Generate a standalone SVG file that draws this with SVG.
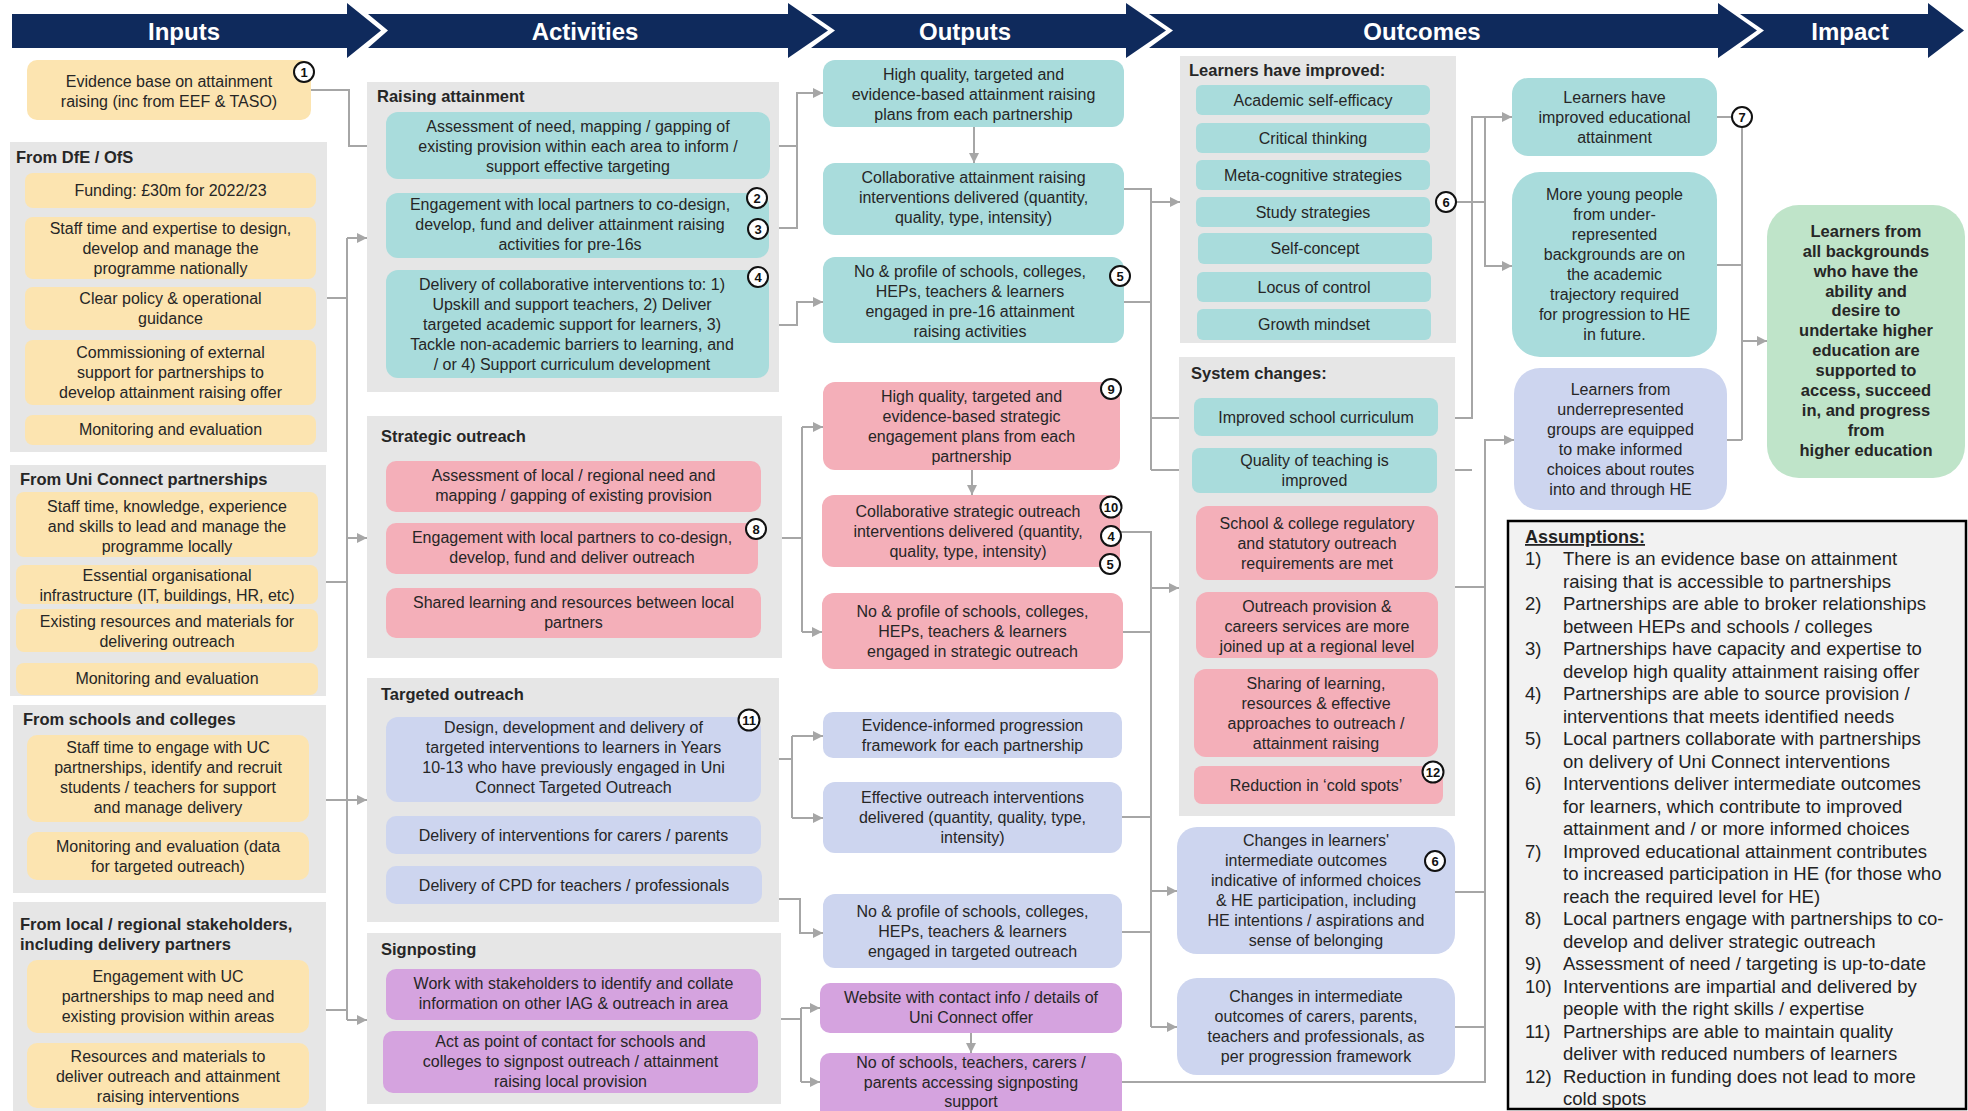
<svg xmlns="http://www.w3.org/2000/svg" width="1968" height="1111" viewBox="0 0 1968 1111">
<defs>
<marker id="ah" markerWidth="10" markerHeight="10" refX="10" refY="5" orient="auto" markerUnits="userSpaceOnUse"><path d="M0,0 L10,5 L0,10 z" fill="#a6a6a6"/></marker>
<style>
.hdr{fill:#0f2a5c}
.ht{font:bold 24px 'Liberation Sans',Arial,sans-serif;fill:#fff;text-anchor:middle}
.panel{fill:#e6e6e6}
.t{font:16px 'Liberation Sans',Arial,sans-serif;fill:#262626;text-anchor:middle}
.pt{font:bold 16.5px 'Liberation Sans',Arial,sans-serif;fill:#262626}
.bt{font:bold 16.5px 'Liberation Sans',Arial,sans-serif;fill:#262626;text-anchor:middle}
.in{fill:#fce4b0}
.tl{fill:#a9dcdc}
.pk{fill:#f4afb9}
.lv{fill:#cdd5ef}
.pu{fill:#d5a3df}
.gr{fill:#bfe4c9}
.c{fill:none;stroke:#a6a6a6;stroke-width:2}
.a{marker-end:url(#ah)}
.bd{fill:#fff;stroke:#111;stroke-width:2}
.bn{font:bold 13px 'Liberation Sans',Arial,sans-serif;fill:#111;text-anchor:middle}
.as{font:18.5px 'Liberation Sans',Arial,sans-serif;fill:#222}
</style>
</defs>
<rect width="1968" height="1111" fill="#fff"/>

<g id="header">
<path class="hdr" d="M12,14 H347 V3 L381,30.5 L347,58 V48 H12 Z"/>
<path class="hdr" d="M368,14 H788 V3 L828,30.5 L788,58 V48 H368 L388,30.5 Z"/>
<path class="hdr" d="M811,14 H1126 V3 L1166,30.5 L1126,58 V48 H811 L835,30.5 Z"/>
<path class="hdr" d="M1149,14 H1718 V3 L1757,30.5 L1718,58 V48 H1149 L1173,30.5 Z"/>
<path class="hdr" d="M1740,14 H1928 V3 L1964,30.5 L1928,58 V48 H1740 L1764,30.5 Z"/>
<text class="ht" x="184" y="39.5">Inputs</text>
<text class="ht" x="585" y="39.5">Activities</text>
<text class="ht" x="965" y="39.5">Outputs</text>
<text class="ht" x="1422" y="39.5">Outcomes</text>
<text class="ht" x="1850" y="39.5">Impact</text>
</g>

<g id="connectors">
<path class="c a" d="M311,90 H349 V146 H386"/>
<path class="c" d="M327,298 H347"/>
<path class="c" d="M326,582 H347"/>
<path class="c a" d="M326,800 H367"/>
<path class="c" d="M326,1010 H347"/>
<path class="c" d="M347,238 V1020"/>
<path class="c a" d="M347,238 H367"/>
<path class="c a" d="M347,538 H367"/>
<path class="c a" d="M347,1020 H367"/>
<path class="c a" d="M770,146 H797 V93 H823"/>
<path class="c" d="M767,228 H797 V146"/>
<path class="c a" d="M769,325 H797 V302 H823"/>
<path class="c a" d="M974,127 V163"/>
<path class="c" d="M1124,189 H1151 V470"/>
<path class="c a" d="M1151,202 H1180"/>
<path class="c" d="M1124,302 H1151"/>
<path class="c a" d="M1151,418 H1194"/>
<path class="c a" d="M1151,470 H1192"/>
<path class="c" d="M782,538 H802"/>
<path class="c" d="M802,427 V632"/>
<path class="c a" d="M802,427 H823"/>
<path class="c a" d="M802,632 H822"/>
<path class="c a" d="M972,470 V495"/>
<path class="c" d="M1120,532 H1151 V1027"/>
<path class="c" d="M1123,632 H1151"/>
<path class="c a" d="M1151,588 H1179"/>
<path class="c a" d="M1151,891 H1177"/>
<path class="c a" d="M1151,1027 H1177"/>
<path class="c" d="M761,759 H792"/>
<path class="c" d="M792,736 V818"/>
<path class="c a" d="M792,736 H823"/>
<path class="c a" d="M792,818 H823"/>
<path class="c a" d="M779,899 H800 V933 H823"/>
<path class="c" d="M781,1019 H801"/>
<path class="c" d="M801,1008 V1082"/>
<path class="c a" d="M801,1008 H820"/>
<path class="c a" d="M801,1082 H820"/>
<path class="c a" d="M971,1033 V1053"/>
<path class="c" d="M1122,817 H1151"/>
<path class="c" d="M1122,932 H1151"/>
<path class="c a" d="M1122,1082 H1485 V440 H1514"/>
<path class="c" d="M1455,587 H1485"/>
<path class="c" d="M1455,892 H1485"/>
<path class="c" d="M1455,1027 H1485"/>
<path class="c a" d="M1438,418 H1472 V117 H1512"/>
<path class="c" d="M1437,470 H1472"/>
<path class="c" d="M1455,202 H1485"/>
<path class="c a" d="M1485,117 V266 H1512"/>
<path class="c" d="M1717,117 H1733"/>
<path class="c" d="M1742,126 V440"/>
<path class="c" d="M1717,265 H1742"/>
<path class="c" d="M1727,440 H1742"/>
<path class="c a" d="M1742,341 H1767"/>
</g>

<g id="in-evidence">
<rect class="in" x="27" y="60" width="284" height="60" rx="10"/>
<text class="t" x="169" y="87">Evidence base on attainment</text>
<text class="t" x="169" y="107">raising (inc from EEF &amp; TASO)</text>
<circle class="bd" cx="304" cy="72" r="10"/><text class="bn" x="304" y="76.5">1</text>
</g>

<g id="in-dfe">
<rect class="panel" x="10" y="142" width="317" height="310"/>
<text class="pt" x="16" y="163">From DfE / OfS</text>
<rect class="in" x="25" y="173" width="291" height="35" rx="8"/>
<text class="t" x="170.5" y="196">Funding: £30m for 2022/23</text>
<rect class="in" x="25" y="217" width="291" height="62" rx="8"/>
<text class="t" x="170.5" y="234">Staff time and expertise to design,</text>
<text class="t" x="170.5" y="254">develop and manage the</text>
<text class="t" x="170.5" y="274">programme nationally</text>
<rect class="in" x="25" y="287" width="291" height="43" rx="8"/>
<text class="t" x="170.5" y="304">Clear policy &amp; operational</text>
<text class="t" x="170.5" y="324">guidance</text>
<rect class="in" x="25" y="340" width="291" height="65" rx="8"/>
<text class="t" x="170.5" y="358">Commissioning of external</text>
<text class="t" x="170.5" y="378">support for partnerships to</text>
<text class="t" x="170.5" y="398">develop attainment raising offer</text>
<rect class="in" x="25" y="415" width="291" height="30" rx="8"/>
<text class="t" x="170.5" y="435">Monitoring and evaluation</text>
</g>

<g id="in-uni">
<rect class="panel" x="10" y="465" width="316" height="231"/>
<text class="pt" x="20" y="485">From Uni Connect partnerships</text>
<rect class="in" x="16" y="492" width="302" height="65" rx="8"/>
<text class="t" x="167" y="512">Staff time, knowledge, experience</text>
<text class="t" x="167" y="532">and skills to lead and manage the</text>
<text class="t" x="167" y="552">programme locally</text>
<rect class="in" x="16" y="565" width="302" height="39" rx="8"/>
<text class="t" x="167" y="581">Essential organisational</text>
<text class="t" x="167" y="601">infrastructure (IT, buildings, HR, etc)</text>
<rect class="in" x="16" y="609" width="302" height="43" rx="8"/>
<text class="t" x="167" y="627">Existing resources and materials for</text>
<text class="t" x="167" y="647">delivering outreach</text>
<rect class="in" x="16" y="663" width="302" height="32" rx="8"/>
<text class="t" x="167" y="684">Monitoring and evaluation</text>
</g>

<g id="in-schools">
<rect class="panel" x="13" y="705" width="313" height="188"/>
<text class="pt" x="23" y="725">From schools and colleges</text>
<rect class="in" x="27" y="735" width="282" height="87" rx="10"/>
<text class="t" x="168" y="753">Staff time to engage with UC</text>
<text class="t" x="168" y="773">partnerships, identify and recruit</text>
<text class="t" x="168" y="793">students / teachers for support</text>
<text class="t" x="168" y="813">and manage delivery</text>
<rect class="in" x="27" y="832" width="282" height="48" rx="10"/>
<text class="t" x="168" y="852">Monitoring and evaluation (data</text>
<text class="t" x="168" y="872">for targeted outreach)</text>
</g>

<g id="in-local">
<rect class="panel" x="13" y="902" width="313" height="209"/>
<text class="pt" x="20" y="930">From local / regional stakeholders,</text>
<text class="pt" x="20" y="950">including delivery partners</text>
<rect class="in" x="27" y="960" width="282" height="73" rx="10"/>
<text class="t" x="168" y="982">Engagement with UC</text>
<text class="t" x="168" y="1002">partnerships to map need and</text>
<text class="t" x="168" y="1022">existing provision within areas</text>
<rect class="in" x="27" y="1043" width="282" height="65" rx="10"/>
<text class="t" x="168" y="1062">Resources and materials to</text>
<text class="t" x="168" y="1082">deliver outreach and attainment</text>
<text class="t" x="168" y="1102">raising interventions</text>
</g>

<g id="act-raising">
<rect class="panel" x="367" y="82" width="412" height="310"/>
<text class="pt" x="377" y="102">Raising attainment</text>
<rect class="tl" x="386" y="112" width="384" height="67" rx="12"/>
<text class="t" x="578" y="132">Assessment of need, mapping / gapping of</text>
<text class="t" x="578" y="152">existing provision within each area to inform /</text>
<text class="t" x="578" y="172">support effective targeting</text>
<rect class="tl" x="386" y="193" width="383" height="65" rx="12"/>
<text class="t" x="570" y="210">Engagement with local partners to co-design,</text>
<text class="t" x="570" y="230">develop, fund and deliver attainment raising</text>
<text class="t" x="570" y="250">activities for pre-16s</text>
<circle class="bd" cx="757" cy="198" r="10"/><text class="bn" x="757" y="202.5">2</text>
<circle class="bd" cx="758" cy="229" r="10"/><text class="bn" x="758" y="233.5">3</text>
<rect class="tl" x="386" y="270" width="383" height="108" rx="12"/>
<text class="t" x="572" y="290">Delivery of collaborative interventions to: 1)</text>
<text class="t" x="572" y="310">Upskill and support teachers, 2) Deliver</text>
<text class="t" x="572" y="330">targeted academic support for learners, 3)</text>
<text class="t" x="572" y="350">Tackle non-academic barriers to learning, and</text>
<text class="t" x="572" y="370">/ or 4) Support curriculum development</text>
<circle class="bd" cx="758" cy="277" r="10"/><text class="bn" x="758" y="281.5">4</text>
</g>

<g id="act-strategic">
<rect class="panel" x="367" y="416" width="415" height="242"/>
<text class="pt" x="381" y="442">Strategic outreach</text>
<rect class="pk" x="386" y="461" width="375" height="51" rx="10"/>
<text class="t" x="573.5" y="481">Assessment of local / regional need and</text>
<text class="t" x="573.5" y="501">mapping / gapping of existing provision</text>
<rect class="pk" x="386" y="523" width="372" height="51" rx="10"/>
<text class="t" x="572" y="543">Engagement with local partners to co-design,</text>
<text class="t" x="572" y="563">develop, fund and deliver outreach</text>
<circle class="bd" cx="756" cy="529" r="10"/><text class="bn" x="756" y="533.5">8</text>
<rect class="pk" x="386" y="588" width="375" height="50" rx="10"/>
<text class="t" x="573.5" y="608">Shared learning and resources between local</text>
<text class="t" x="573.5" y="628">partners</text>
</g>

<g id="act-targeted">
<rect class="panel" x="367" y="678" width="412" height="244"/>
<text class="pt" x="381" y="700">Targeted outreach</text>
<rect class="lv" x="386" y="717" width="375" height="85" rx="12"/>
<text class="t" x="573.5" y="733">Design, development and delivery of</text>
<text class="t" x="573.5" y="753">targeted interventions to learners in Years</text>
<text class="t" x="573.5" y="773">10-13 who have previously engaged in Uni</text>
<text class="t" x="573.5" y="793">Connect Targeted Outreach</text>
<circle class="bd" cx="749" cy="720" r="10.5"/><text class="bn" x="749" y="724.5">11</text>
<rect class="lv" x="386" y="816" width="375" height="38" rx="10"/>
<text class="t" x="573.5" y="841">Delivery of interventions for carers / parents</text>
<rect class="lv" x="386" y="866" width="376" height="38" rx="10"/>
<text class="t" x="574" y="891">Delivery of CPD for teachers / professionals</text>
</g>

<g id="act-signposting">
<rect class="panel" x="367" y="933" width="414" height="171"/>
<text class="pt" x="381" y="955">Signposting</text>
<rect class="pu" x="386" y="969" width="375" height="51" rx="10"/>
<text class="t" x="573.5" y="989">Work with stakeholders to identify and collate</text>
<text class="t" x="573.5" y="1009">information on other IAG &amp; outreach in area</text>
<rect class="pu" x="383" y="1031" width="375" height="62" rx="10"/>
<text class="t" x="570.5" y="1047">Act as point of contact for schools and</text>
<text class="t" x="570.5" y="1067">colleges to signpost outreach / attainment</text>
<text class="t" x="570.5" y="1087">raising local provision</text>
</g>

<g id="out-ra-plans">
<rect class="tl" x="823" y="60" width="301" height="67" rx="12"/>
<text class="t" x="973.5" y="80">High quality, targeted and</text>
<text class="t" x="973.5" y="100">evidence-based attainment raising</text>
<text class="t" x="973.5" y="120">plans from each partnership</text>
</g>
<g id="out-ra-interventions">
<rect class="tl" x="823" y="163" width="301" height="72" rx="12"/>
<text class="t" x="973.5" y="183">Collaborative attainment raising</text>
<text class="t" x="973.5" y="203">interventions delivered (quantity,</text>
<text class="t" x="973.5" y="223">quality, type, intensity)</text>
</g>
<g id="out-ra-profile">
<rect class="tl" x="823" y="257" width="301" height="86" rx="12"/>
<text class="t" x="970" y="277">No &amp; profile of schools, colleges,</text>
<text class="t" x="970" y="297">HEPs, teachers &amp; learners</text>
<text class="t" x="970" y="317">engaged in pre-16 attainment</text>
<text class="t" x="970" y="337">raising activities</text>
<circle class="bd" cx="1120" cy="276" r="10"/><text class="bn" x="1120" y="280.5">5</text>
</g>

<g id="out-so-plans">
<rect class="pk" x="823" y="382" width="297" height="88" rx="12"/>
<text class="t" x="971.5" y="402">High quality, targeted and</text>
<text class="t" x="971.5" y="422">evidence-based strategic</text>
<text class="t" x="971.5" y="442">engagement plans from each</text>
<text class="t" x="971.5" y="462">partnership</text>
<circle class="bd" cx="1111" cy="389" r="10"/><text class="bn" x="1111" y="393.5">9</text>
</g>
<g id="out-so-interventions">
<rect class="pk" x="822" y="495" width="298" height="72" rx="12"/>
<text class="t" x="968" y="517">Collaborative strategic outreach</text>
<text class="t" x="968" y="537">interventions delivered (quantity,</text>
<text class="t" x="968" y="557">quality, type, intensity)</text>
<circle class="bd" cx="1111" cy="507" r="10.5"/><text class="bn" x="1111" y="511.5">10</text>
<circle class="bd" cx="1111" cy="536" r="10"/><text class="bn" x="1111" y="540.5">4</text>
<circle class="bd" cx="1110" cy="564" r="10"/><text class="bn" x="1110" y="568.5">5</text>
</g>
<g id="out-so-profile">
<rect class="pk" x="822" y="593" width="301" height="76" rx="12"/>
<text class="t" x="972.5" y="617">No &amp; profile of schools, colleges,</text>
<text class="t" x="972.5" y="637">HEPs, teachers &amp; learners</text>
<text class="t" x="972.5" y="657">engaged in strategic outreach</text>
</g>

<g id="out-to-framework">
<rect class="lv" x="823" y="712" width="299" height="46" rx="10"/>
<text class="t" x="972.5" y="731">Evidence-informed progression</text>
<text class="t" x="972.5" y="751">framework for each partnership</text>
</g>
<g id="out-to-interventions">
<rect class="lv" x="823" y="782" width="299" height="71" rx="12"/>
<text class="t" x="972.5" y="803">Effective outreach interventions</text>
<text class="t" x="972.5" y="823">delivered (quantity, quality, type,</text>
<text class="t" x="972.5" y="843">intensity)</text>
</g>
<g id="out-to-profile">
<rect class="lv" x="823" y="894" width="299" height="74" rx="12"/>
<text class="t" x="972.5" y="917">No &amp; profile of schools, colleges,</text>
<text class="t" x="972.5" y="937">HEPs, teachers &amp; learners</text>
<text class="t" x="972.5" y="957">engaged in targeted outreach</text>
</g>

<g id="out-sp-website">
<rect class="pu" x="820" y="983" width="302" height="50" rx="10"/>
<text class="t" x="971" y="1003">Website with contact info / details of</text>
<text class="t" x="971" y="1023">Uni Connect offer</text>
</g>
<g id="out-sp-accessing">
<rect class="pu" x="820" y="1053" width="302" height="68" rx="10"/>
<text class="t" x="971" y="1068">No of schools, teachers, carers /</text>
<text class="t" x="971" y="1088">parents accessing signposting</text>
<text class="t" x="971" y="1107">support</text>
</g>

<g id="oc-learners">
<rect class="panel" x="1180" y="56" width="276" height="287"/>
<text class="pt" x="1189" y="76">Learners have improved:</text>
<rect class="tl" x="1196" y="85" width="234" height="30" rx="6"/>
<text class="t" x="1313" y="105.5">Academic self-efficacy</text>
<rect class="tl" x="1196" y="123" width="234" height="30" rx="6"/>
<text class="t" x="1313" y="143.5">Critical thinking</text>
<rect class="tl" x="1196" y="160" width="234" height="30" rx="6"/>
<text class="t" x="1313" y="180.5">Meta-cognitive strategies</text>
<rect class="tl" x="1196" y="197" width="234" height="30" rx="6"/>
<text class="t" x="1313" y="217.5">Study strategies</text>
<rect class="tl" x="1198" y="233" width="234" height="31" rx="6"/>
<text class="t" x="1315" y="254">Self-concept</text>
<rect class="tl" x="1197" y="272" width="234" height="30" rx="6"/>
<text class="t" x="1314" y="292.5">Locus of control</text>
<rect class="tl" x="1197" y="309" width="234" height="31" rx="6"/>
<text class="t" x="1314" y="330">Growth mindset</text>
<circle class="bd" cx="1446" cy="202" r="10"/><text class="bn" x="1446" y="206.5">6</text>
</g>

<g id="oc-system">
<rect class="panel" x="1179" y="357" width="276" height="459"/>
<text class="pt" x="1191" y="379">System changes:</text>
<rect class="tl" x="1194" y="398" width="244" height="38" rx="8"/>
<text class="t" x="1316" y="423">Improved school curriculum</text>
<rect class="tl" x="1192" y="448" width="245" height="45" rx="8"/>
<text class="t" x="1314.5" y="466">Quality of teaching is</text>
<text class="t" x="1314.5" y="486">improved</text>
<rect class="pk" x="1196" y="506" width="242" height="74" rx="12"/>
<text class="t" x="1317" y="529">School &amp; college regulatory</text>
<text class="t" x="1317" y="549">and statutory outreach</text>
<text class="t" x="1317" y="569">requirements are met</text>
<rect class="pk" x="1196" y="592" width="242" height="66" rx="12"/>
<text class="t" x="1317" y="612">Outreach provision &amp;</text>
<text class="t" x="1317" y="632">careers services are more</text>
<text class="t" x="1317" y="652">joined up at a regional level</text>
<rect class="pk" x="1194" y="669" width="244" height="88" rx="12"/>
<text class="t" x="1316" y="688.5">Sharing of learning,</text>
<text class="t" x="1316" y="708.5">resources &amp; effective</text>
<text class="t" x="1316" y="728.5">approaches to outreach /</text>
<text class="t" x="1316" y="748.5">attainment raising</text>
<rect class="pk" x="1194" y="766" width="249" height="38" rx="8"/>
<text class="t" x="1316" y="791">Reduction in ‘cold spots’</text>
<circle class="bd" cx="1433" cy="772" r="10.5"/><text class="bn" x="1433" y="776.5">12</text>
</g>

<g id="oc-learner-changes">
<rect class="lv" x="1177" y="827" width="278" height="127" rx="20"/>
<text class="t" x="1316" y="846">Changes in learners'</text>
<text class="t" x="1306" y="866">intermediate outcomes</text>
<text class="t" x="1316" y="886">indicative of informed choices</text>
<text class="t" x="1316" y="906">&amp; HE participation, including</text>
<text class="t" x="1316" y="926">HE intentions / aspirations and</text>
<text class="t" x="1316" y="946">sense of belonging</text>
<circle class="bd" cx="1435" cy="861" r="10"/><text class="bn" x="1435" y="865.5">6</text>
</g>
<g id="oc-carer-changes">
<rect class="lv" x="1177" y="978" width="278" height="97" rx="20"/>
<text class="t" x="1316" y="1002">Changes in intermediate</text>
<text class="t" x="1316" y="1022">outcomes of carers, parents,</text>
<text class="t" x="1316" y="1042">teachers and professionals, as</text>
<text class="t" x="1316" y="1062">per progression framework</text>
</g>

<g id="oc-attainment">
<rect class="tl" x="1512" y="78" width="205" height="78" rx="16"/>
<text class="t" x="1614.5" y="103">Learners have</text>
<text class="t" x="1614.5" y="123">improved educational</text>
<text class="t" x="1614.5" y="143">attainment</text>
<circle class="bd" cx="1742" cy="117" r="10"/><text class="bn" x="1742" y="121.5">7</text>
</g>
<g id="oc-young-people">
<rect class="tl" x="1512" y="172" width="205" height="185" rx="28"/>
<text class="t" x="1614.5" y="200">More young people</text>
<text class="t" x="1614.5" y="220">from under-</text>
<text class="t" x="1614.5" y="240">represented</text>
<text class="t" x="1614.5" y="260">backgrounds are on</text>
<text class="t" x="1614.5" y="280">the academic</text>
<text class="t" x="1614.5" y="300">trajectory required</text>
<text class="t" x="1614.5" y="320">for progression to HE</text>
<text class="t" x="1614.5" y="340">in future.</text>
</g>
<g id="oc-informed-choices">
<rect class="lv" x="1514" y="368" width="213" height="142" rx="26"/>
<text class="t" x="1620.5" y="394.5">Learners from</text>
<text class="t" x="1620.5" y="414.5">underrepresented</text>
<text class="t" x="1620.5" y="434.5">groups are equipped</text>
<text class="t" x="1620.5" y="454.5">to make informed</text>
<text class="t" x="1620.5" y="474.5">choices about routes</text>
<text class="t" x="1620.5" y="494.5">into and through HE</text>
</g>

<g id="impact">
<rect class="gr" x="1767" y="205" width="198" height="273" rx="32"/>
<text class="bt" x="1866" y="237">Learners from</text>
<text class="bt" x="1866" y="257">all backgrounds</text>
<text class="bt" x="1866" y="277">who have the</text>
<text class="bt" x="1866" y="297">ability and</text>
<text class="bt" x="1866" y="316">desire to</text>
<text class="bt" x="1866" y="336">undertake higher</text>
<text class="bt" x="1866" y="356">education are</text>
<text class="bt" x="1866" y="376">supported to</text>
<text class="bt" x="1866" y="396">access, succeed</text>
<text class="bt" x="1866" y="416">in, and progress</text>
<text class="bt" x="1866" y="436">from</text>
<text class="bt" x="1866" y="456">higher education</text>
</g>

<g id="assumptions">
<rect x="1508" y="521" width="458" height="588" fill="#f2f2f2" stroke="#000" stroke-width="2.5"/>
<text x="1525" y="543" style="font:bold 18px 'Liberation Sans',Arial,sans-serif;fill:#222;text-decoration:underline">Assumptions:</text>
<text class="as" x="1525" y="565">1)</text><text class="as" x="1563" y="565">There is an evidence base on attainment</text>
<text class="as" x="1563" y="587.5">raising that is accessible to partnerships</text>
<text class="as" x="1525" y="610">2)</text><text class="as" x="1563" y="610">Partnerships are able to broker relationships</text>
<text class="as" x="1563" y="632.5">between HEPs and schools / colleges</text>
<text class="as" x="1525" y="655">3)</text><text class="as" x="1563" y="655">Partnerships have capacity and expertise to</text>
<text class="as" x="1563" y="677.5">develop high quality attainment raising offer</text>
<text class="as" x="1525" y="700">4)</text><text class="as" x="1563" y="700">Partnerships are able to source provision /</text>
<text class="as" x="1563" y="722.5">interventions that meets identified needs</text>
<text class="as" x="1525" y="745">5)</text><text class="as" x="1563" y="745">Local partners collaborate with partnerships</text>
<text class="as" x="1563" y="767.5">on delivery of Uni Connect interventions</text>
<text class="as" x="1525" y="790">6)</text><text class="as" x="1563" y="790">Interventions deliver intermediate outcomes</text>
<text class="as" x="1563" y="812.5">for learners, which contribute to improved</text>
<text class="as" x="1563" y="835">attainment and / or more informed choices</text>
<text class="as" x="1525" y="857.5">7)</text><text class="as" x="1563" y="857.5">Improved educational attainment contributes</text>
<text class="as" x="1563" y="880">to increased participation in HE (for those who</text>
<text class="as" x="1563" y="902.5">reach the required level for HE)</text>
<text class="as" x="1525" y="925">8)</text><text class="as" x="1563" y="925">Local partners engage with partnerships to co-</text>
<text class="as" x="1563" y="947.5">develop and deliver strategic outreach</text>
<text class="as" x="1525" y="970">9)</text><text class="as" x="1563" y="970">Assessment of need / targeting is up-to-date</text>
<text class="as" x="1525" y="992.5">10)</text><text class="as" x="1563" y="992.5">Interventions are impartial and delivered by</text>
<text class="as" x="1563" y="1015">people with the right skills / expertise</text>
<text class="as" x="1525" y="1037.5">11)</text><text class="as" x="1563" y="1037.5">Partnerships are able to maintain quality</text>
<text class="as" x="1563" y="1060">deliver with reduced numbers of learners</text>
<text class="as" x="1525" y="1082.5">12)</text><text class="as" x="1563" y="1082.5">Reduction in funding does not lead to more</text>
<text class="as" x="1563" y="1105">cold spots</text>
</g>
</svg>
